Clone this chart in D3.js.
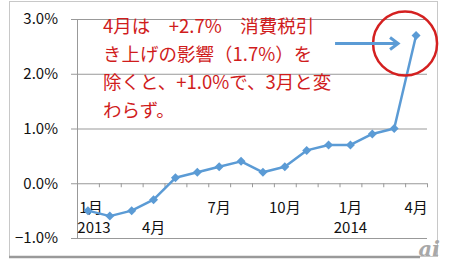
<!DOCTYPE html>
<html>
<head>
<meta charset="utf-8">
<script src="https://cdn.jsdelivr.net/npm/d3@7"></script>
<style>
  body { margin: 0; background: #fff; }
  svg { display: block; }
</style>
</head>
<body>
<div id="chart"></div>
<script>
  // 2013年1月〜2014年4月（前年同月比, %）
  var months = ["1月","2月","3月","4月","5月","6月","7月","8月","9月","10月","11月","12月","1月","2月","3月","4月"];
  var values = [-0.5, -0.6, -0.5, -0.3, 0.1, 0.2, 0.3, 0.4, 0.2, 0.3, 0.6, 0.7, 0.7, 0.9, 1.0, 2.7];
  // 軸ラベル（表示するものだけ）
  var monthLabels = ["1月","","","4月","","","7月","","","10月","","","1月","","","4月"];
  var monthRow    = [1,0,0,2,0,0,1,0,0,1,0,0,1,0,0,1];
  var yearLabels  = ["2013","","","","","","","","","","","","2014","","",""];
  var yTicks = [-1, 0, 1, 2, 3];
  var note = ["4月は　+2.7%　消費税引", "き上げの影響（1.7%）を", "除くと、+1.0%で、3月と変", "わらず。"];

  var width = 450, height = 266;
  var svg = d3.select("#chart").append("svg")
      .attr("width", width)
      .attr("height", height);

  var x = d3.scaleBand()
      .domain(d3.range(months.length))
      .range([77, 427]);
  var y = d3.scaleLinear()
      .domain([-1, 3])
      .range([238, 19]);

  var font = "'Noto Sans CJK JP', 'Noto Sans', sans-serif";

  // 外枠
  svg.append("rect")
      .attr("x", 9.5).attr("y", 1.5)
      .attr("width", 428).attr("height", 255)
      .attr("fill", "none").attr("stroke", "#c8c8c8");
  svg.append("line")
      .attr("x1", 9).attr("x2", 420)
      .attr("y1", 257).attr("y2", 257)
      .attr("stroke", "#9a9a9a").attr("stroke-width", 2.5);

  // 目盛り線
  var yAxis = d3.axisLeft(y)
      .tickValues(yTicks)
      .tickSize(-(x.range()[1] - x.range()[0]))
      .tickFormat(function(d){ return d3.format(".1f")(d) + "%"; });
  var gy = svg.append("g")
      .attr("transform", "translate(" + x.range()[0] + ",0)")
      .call(yAxis);
  gy.select(".domain").attr("stroke", "#999");
  gy.selectAll(".tick line").attr("stroke", "#999").attr("x1", -6);
  gy.selectAll(".tick text")
      .attr("x", -19)
      .attr("fill", "#111")
      .style("font-family", font)
      .style("font-size", "15px");

  // x軸（0%の位置）
  var bounds = d3.range(months.length + 1).map(function(i){
    return x.range()[0] + i * x.step();
  });
  svg.append("g").selectAll("line")
      .data(bounds.slice(1))
      .enter().append("line")
      .attr("x1", function(d){ return d + 0.5; })
      .attr("x2", function(d){ return d + 0.5; })
      .attr("y1", y(0)).attr("y2", y(0) + 4)
      .attr("stroke", "#999");

  // 月・年ラベル
  function labelX(i, w) {
    var cx = x(i) + x.bandwidth() / 2;
    return Math.max(cx, x.range()[0] + w / 2);
  }
  var mIdx = d3.range(months.length).filter(function(i){ return monthLabels[i] !== ""; });
  var yIdx = d3.range(months.length).filter(function(i){ return yearLabels[i] !== ""; });
  svg.append("g").selectAll("text")
      .data(mIdx)
      .enter().append("text")
      .attr("x", function(i){ return labelX(i, 28); })
      .attr("y", function(i){ return monthRow[i] === 1 ? 213 : 233; })
      .attr("text-anchor", "middle")
      .attr("fill", "#111")
      .style("font-family", font)
      .style("font-size", "15px")
      .text(function(i){ return monthLabels[i]; });
  svg.append("g").selectAll("text")
      .data(yIdx)
      .enter().append("text")
      .attr("x", function(i){ return labelX(i, 34); })
      .attr("y", 233)
      .attr("text-anchor", "middle")
      .attr("fill", "#111")
      .style("font-family", font)
      .style("font-size", "15px")
      .text(function(i){ return yearLabels[i]; });

  // 折れ線
  var px = function(d, i){ return x(i) + x.bandwidth() / 2; };
  var line = d3.line()
      .x(px)
      .y(function(d){ return y(d); });
  var blue = "#5b9bd5";
  svg.append("path")
      .datum(values)
      .attr("d", line)
      .attr("fill", "none")
      .attr("stroke", blue)
      .attr("stroke-width", 2.5)
      .attr("stroke-linejoin", "round");
  svg.append("g").selectAll("path")
      .data(values)
      .enter().append("path")
      .attr("d", "M0,-4.5L4.5,0L0,4.5L-4.5,0Z")
      .attr("transform", function(d, i){ return "translate(" + px(d, i) + "," + y(d) + ")"; })
      .attr("fill", blue);

  // 注記
  var last = values.length - 1;
  var lx = px(values[last], last), ly = y(values[last]);
  svg.append("circle")
      .attr("cx", lx - 11).attr("cy", ly + 8)
      .attr("r", 32)
      .attr("fill", "none")
      .attr("stroke", "#d42020")
      .attr("stroke-width", 2.5);
  var tipX = lx - 18, tipY = ly + 8;
  svg.append("path")
      .attr("d", "M" + (tipX - 63) + "," + tipY + "L" + tipX + "," + tipY +
                 "M" + (tipX - 8) + "," + (tipY - 6) + "L" + tipX + "," + tipY + "L" + (tipX - 8) + "," + (tipY + 6))
      .attr("fill", "none")
      .attr("stroke", blue)
      .attr("stroke-width", 3);

  svg.append("g").selectAll("text")
      .data(note)
      .enter().append("text")
      .attr("x", 103)
      .attr("y", function(d, i){ return 33 + i * 28; })
      .attr("fill", "#d01c1c")
      .style("font-family", font)
      .style("font-size", "18.5px")
      .text(function(d){ return d; });

  // ロゴ
  svg.append("text")
      .attr("x", 440).attr("y", 256)
      .attr("text-anchor", "end")
      .attr("fill", "#a8a8a8")
      .style("font-family", "'DejaVu Serif', serif")
      .style("font-style", "italic")
      .style("font-weight", "bold")
      .style("font-size", "21px")
      .text("ai");
</script>
</body>
</html>
